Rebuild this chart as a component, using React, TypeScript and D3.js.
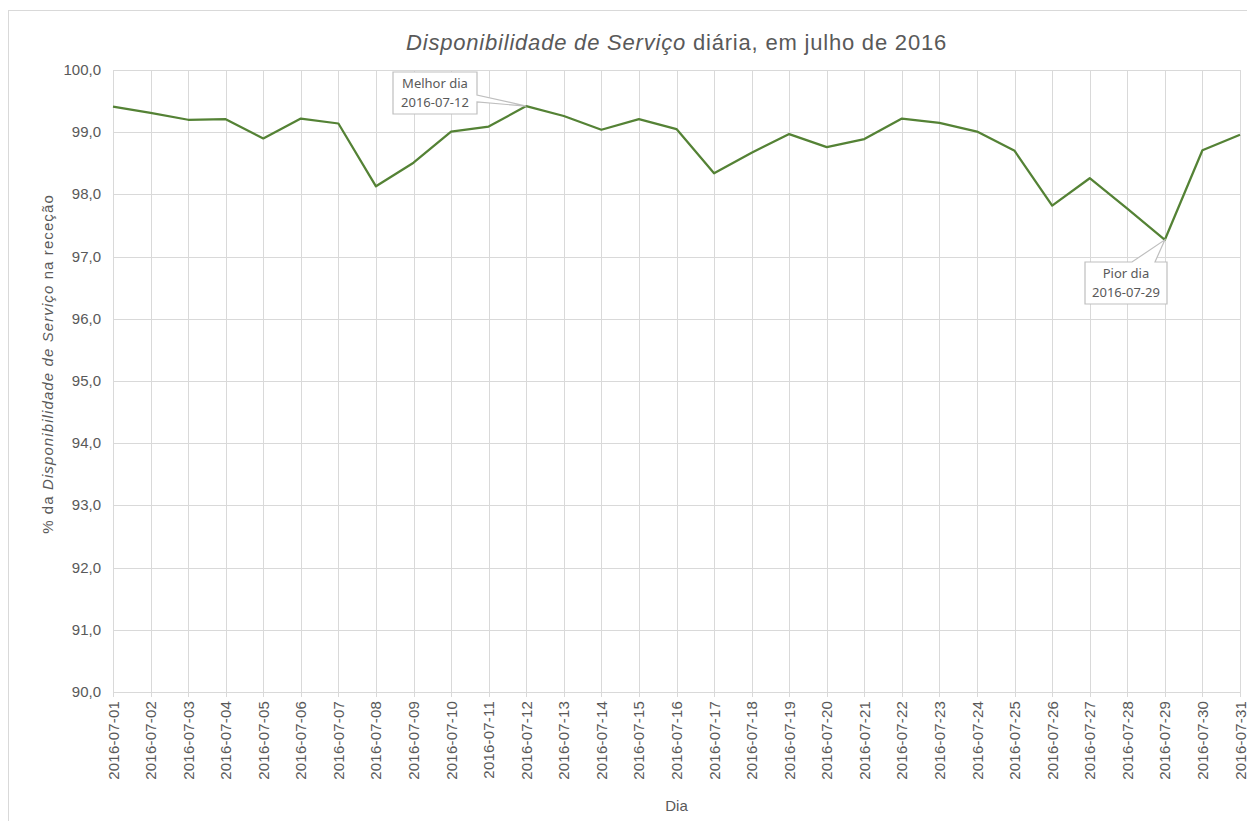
import React, { useEffect, useRef } from 'react';
import * as d3 from 'd3';

const days = d3.range(1, 32).map(d => `2016-07-${String(d).padStart(2, '0')}`);
const availability = [
  99.41, 99.31, 99.2, 99.21, 98.9, 99.22, 99.14, 98.13, 98.51, 99.01,
  99.09, 99.42, 99.26, 99.04, 99.21, 99.05, 98.34, 98.67, 98.97, 98.76,
  98.89, 99.22, 99.15, 99.01, 98.7, 97.82, 98.26, 97.77, 97.27, 98.71,
  98.96,
];
const yTicks = [90, 91, 92, 93, 94, 95, 96, 97, 98, 99, 100];

const W = 1247;
const H = 821;
const textColor = '#595959';
const gridColor = '#d9d9d9';
const lineColor = '#548235';
const font = 'Liberation Sans, Arial, sans-serif';

const App: React.FC = () => {
  const svgRef = useRef<SVGSVGElement | null>(null);

  useEffect(() => {
    if (!svgRef.current) return;
    const svg = d3.select(svgRef.current);
    svg.selectAll('*').remove();

    const left = 113;
    const right = 1240;
    const top = 70;
    const bottom = 692;

    const x = d3.scalePoint<string>().domain(days).range([left, right]);
    const y = d3.scaleLinear().domain([90, 100]).range([bottom, top]);

    // Chart area border
    svg.append('rect')
      .attr('x', 8.5).attr('y', 10.5)
      .attr('width', W).attr('height', H)
      .attr('fill', '#fff')
      .attr('stroke', gridColor);

    // Horizontal gridlines
    svg.selectAll('line.hgrid')
      .data(yTicks)
      .enter()
      .append('line')
      .attr('class', 'hgrid')
      .attr('x1', left).attr('x2', right)
      .attr('y1', d => Math.round(y(d)) + 0.5)
      .attr('y2', d => Math.round(y(d)) + 0.5)
      .attr('stroke', gridColor)
      .attr('stroke-width', 1);

    // Vertical gridlines
    svg.selectAll('line.vgrid')
      .data(days)
      .enter()
      .append('line')
      .attr('class', 'vgrid')
      .attr('x1', d => Math.round(x(d) || 0) + 0.5)
      .attr('x2', d => Math.round(x(d) || 0) + 0.5)
      .attr('y1', top).attr('y2', bottom + 5)
      .attr('stroke', gridColor)
      .attr('stroke-width', 1);

    // Y tick labels
    svg.selectAll('text.ytick')
      .data(yTicks)
      .enter()
      .append('text')
      .attr('class', 'ytick')
      .attr('x', 101)
      .attr('y', d => y(d) + 5)
      .attr('text-anchor', 'end')
      .attr('fill', textColor)
      .attr('font-family', font)
      .attr('font-size', 15)
      .text(d => d.toFixed(1).replace('.', ','));

    // X tick labels
    svg.selectAll('text.xtick')
      .data(days)
      .enter()
      .append('text')
      .attr('class', 'xtick')
      .attr('transform', d => `translate(${(x(d) || 0) + 5.5},${bottom + 9}) rotate(-90)`)
      .attr('text-anchor', 'end')
      .attr('fill', textColor)
      .attr('font-family', font)
      .attr('font-size', 15)
      .attr('letter-spacing', 0.2)
      .text(d => d);

    // Line
    const line = d3.line<number>()
      .x((_, i) => x(days[i]) || 0)
      .y(d => y(d));
    svg.append('path')
      .datum(availability)
      .attr('d', line)
      .attr('fill', 'none')
      .attr('stroke', lineColor)
      .attr('stroke-width', 2.25)
      .attr('stroke-linejoin', 'round');

    // Callouts
    const best = d3.maxIndex(availability);
    const worst = d3.minIndex(availability);
    const bx = x(days[best]) || 0;
    const by = y(availability[best]);
    const wx = x(days[worst]) || 0;
    const wy = y(availability[worst]);

    const calloutStyle = (sel: d3.Selection<SVGPathElement, unknown, null, undefined>) =>
      sel.attr('fill', '#fff').attr('stroke', '#bfbfbf').attr('stroke-width', 1.2);

    // Best day: box to the left, wedge from right edge
    const b = { x0: 393, y0: 72, x1: 477, y1: 114 };
    calloutStyle(svg.append('path')
      .attr('d', `M${b.x0},${b.y0} H${b.x1} V${b.y0 + 23} L${bx},${by} L${b.x1},${b.y0 + 30} V${b.y1} H${b.x0} Z`));
    const bt = svg.append('text')
      .attr('fill', textColor)
      .attr('font-family', 'Noto Sans, Open Sans, sans-serif')
      .attr('font-size', 13)
      .attr('text-anchor', 'middle');
    bt.append('tspan').attr('x', (b.x0 + b.x1) / 2).attr('y', b.y0 + 16).text('Melhor dia');
    bt.append('tspan').attr('x', (b.x0 + b.x1) / 2).attr('y', b.y0 + 35).text(days[best]);

    // Worst day: box below, wedge from top edge
    const w = { x0: 1085, y0: 262, x1: 1167, y1: 304 };
    calloutStyle(svg.append('path')
      .attr('d', `M${w.x0},${w.y0} H${w.x0 + 47} L${wx},${wy} L${w.x0 + 70},${w.y0} H${w.x1} V${w.y1} H${w.x0} Z`));
    const wt = svg.append('text')
      .attr('fill', textColor)
      .attr('font-family', 'Noto Sans, Open Sans, sans-serif')
      .attr('font-size', 13)
      .attr('text-anchor', 'middle');
    wt.append('tspan').attr('x', (w.x0 + w.x1) / 2).attr('y', w.y0 + 16).text('Pior dia');
    wt.append('tspan').attr('x', (w.x0 + w.x1) / 2).attr('y', w.y0 + 35).text(days[worst]);

    // Title
    const title = svg.append('text')
      .attr('x', (left + right) / 2)
      .attr('y', 50)
      .attr('text-anchor', 'middle')
      .attr('fill', textColor)
      .attr('font-family', font)
      .attr('font-size', 22)
      .attr('letter-spacing', 0.8);
    title.append('tspan').attr('font-style', 'italic').text('Disponibilidade de Serviço');
    title.append('tspan').text(' diária, em julho de 2016');

    // Y axis title
    const yTitle = svg.append('text')
      .attr('transform', `translate(53,364) rotate(-90)`)
      .attr('text-anchor', 'middle')
      .attr('fill', textColor)
      .attr('font-family', font)
      .attr('font-size', 15)
      .attr('letter-spacing', 1.1);
    yTitle.append('tspan').text('% da ');
    yTitle.append('tspan').attr('font-style', 'italic').text('Disponibilidade de Serviço');
    yTitle.append('tspan').text(' na receção');

    // X axis title
    svg.append('text')
      .attr('x', (left + right) / 2)
      .attr('y', 811)
      .attr('text-anchor', 'middle')
      .attr('fill', textColor)
      .attr('font-family', font)
      .attr('font-size', 15)
      .text('Dia');
  }, []);

  return (
    <svg
      ref={svgRef}
      width={W}
      height={H}
      style={{ position: 'absolute', left: 0, top: 0, display: 'block', background: '#fff' }}
    />
  );
};

export default App;
